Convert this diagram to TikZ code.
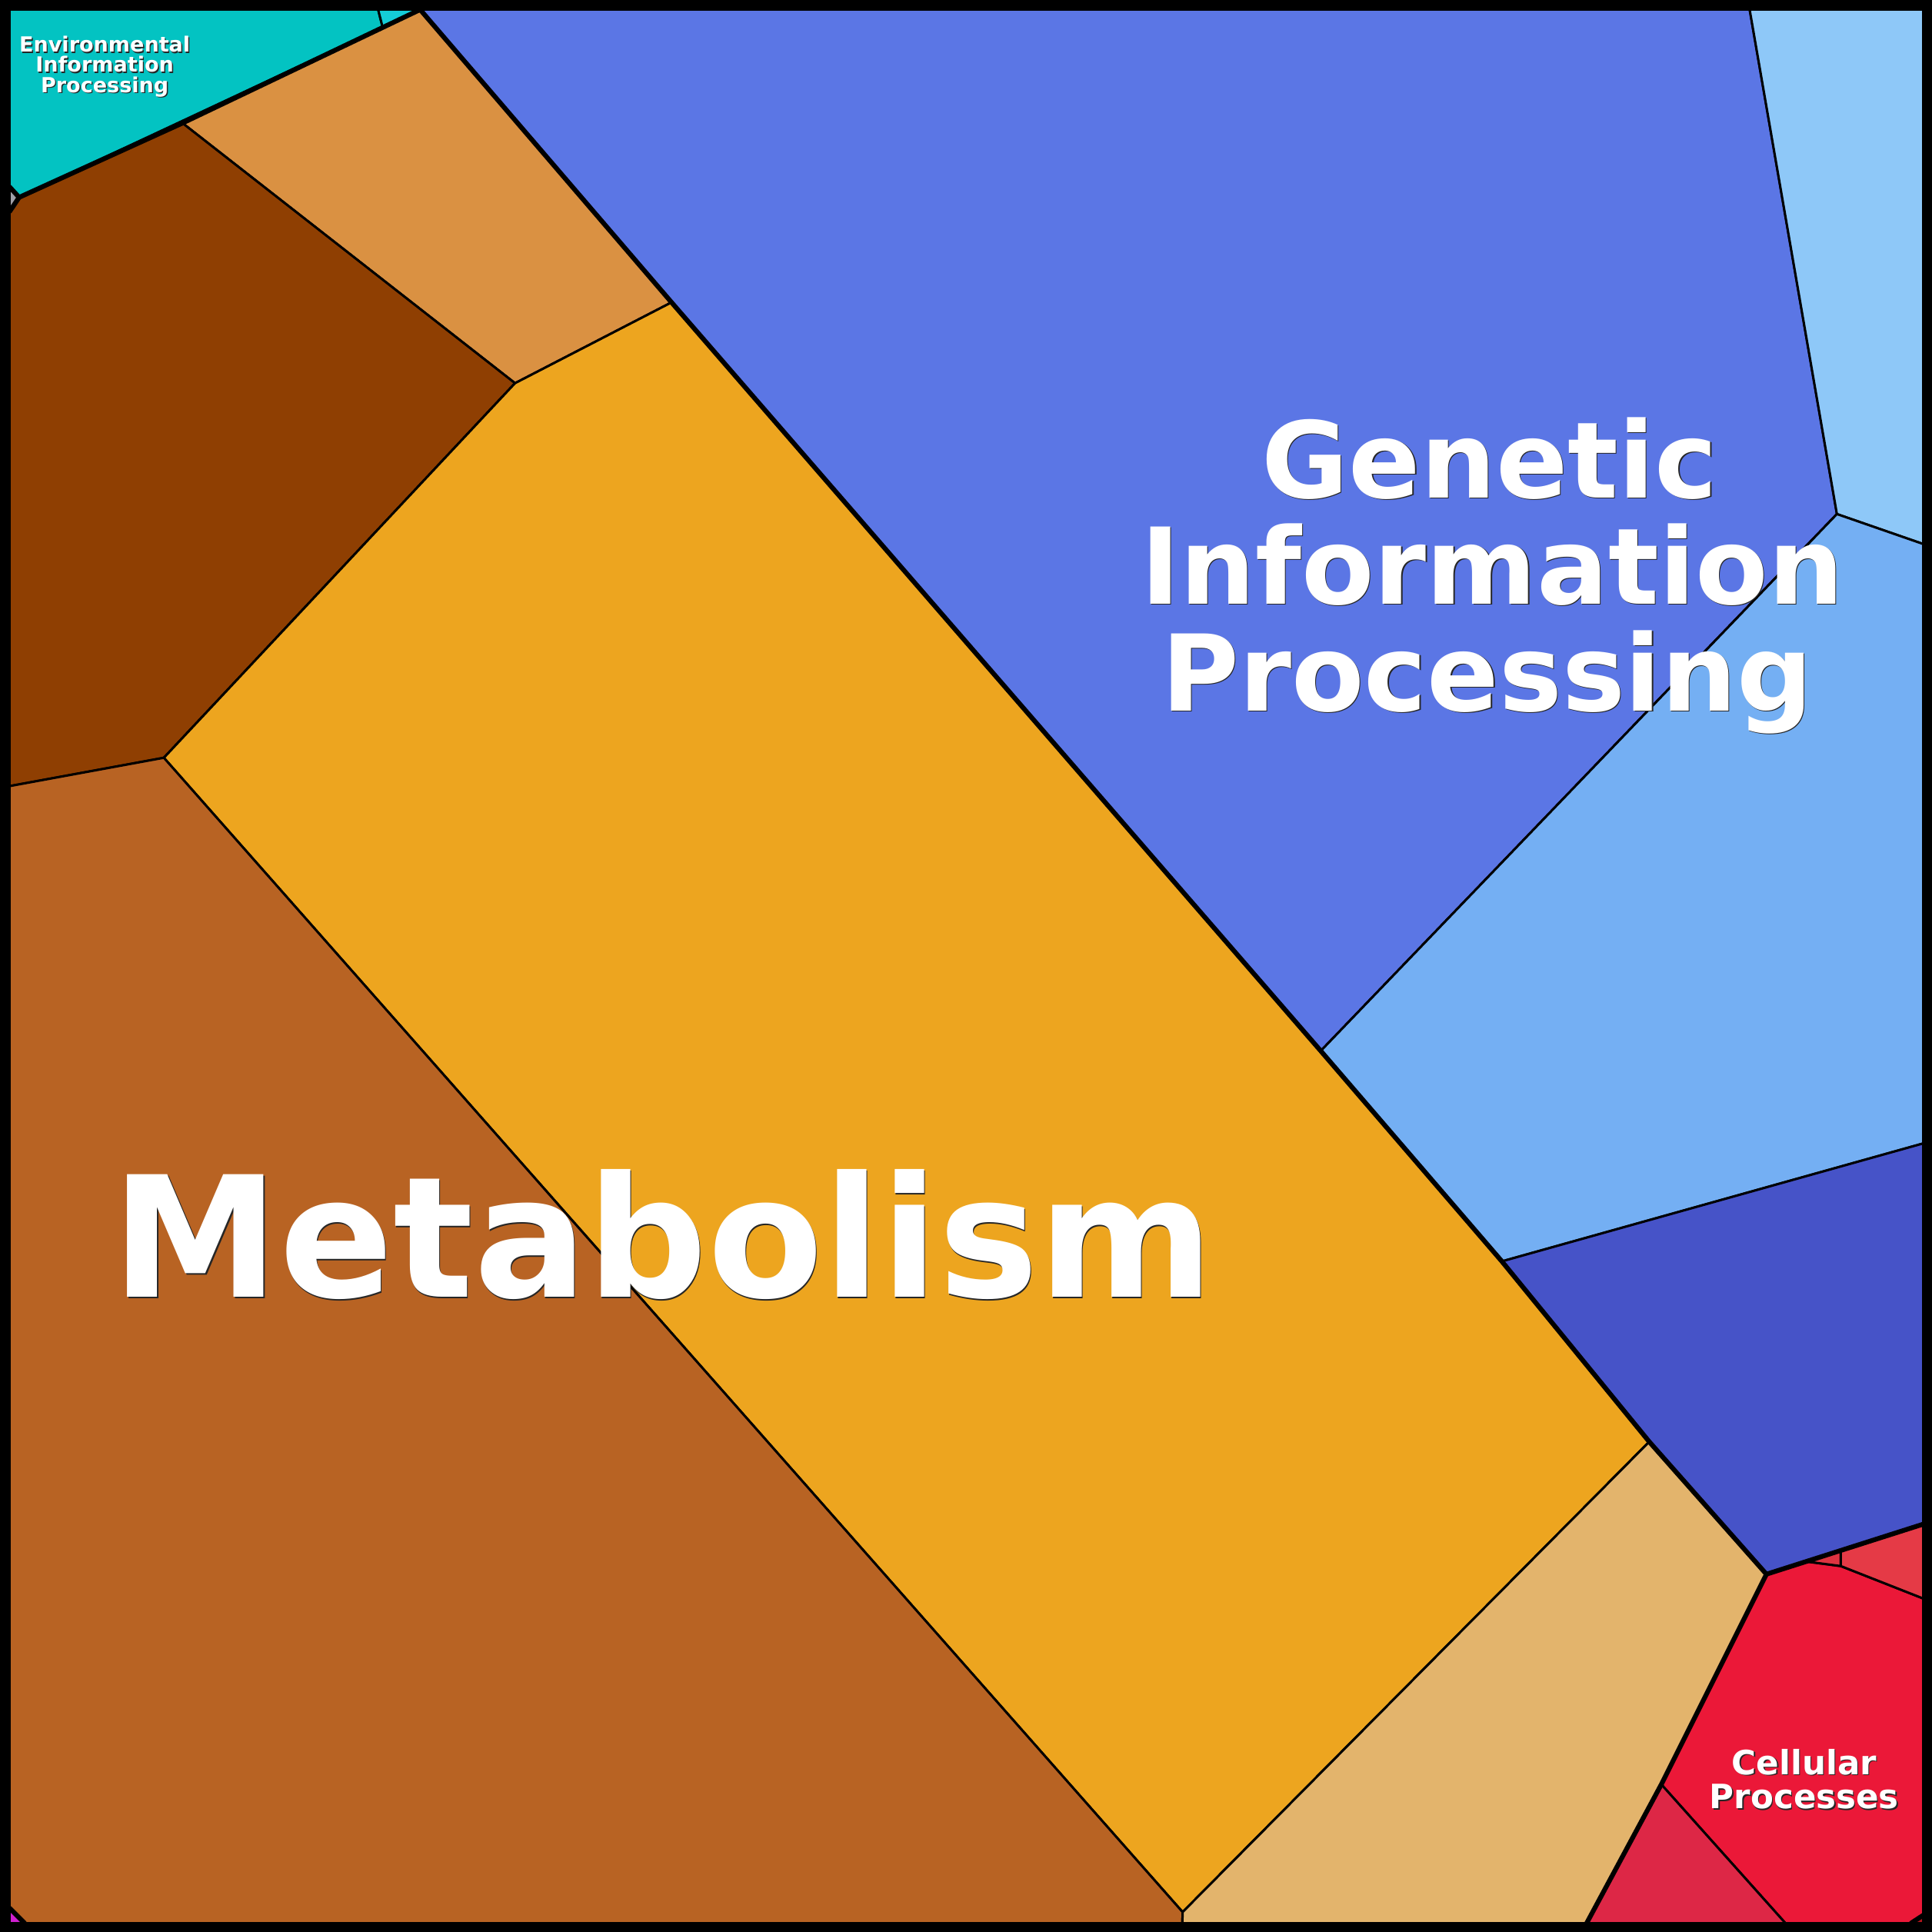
\documentclass[tikz,border=0pt]{standalone}
\usepackage{fontspec}
\setmainfont{DejaVu Sans}
\definecolor{cTeal}{HTML}{03C3C2}
\definecolor{cTealL}{HTML}{14CCD8}
\definecolor{cOrL}{HTML}{DA9142}
\definecolor{cBrD}{HTML}{8F3F02}
\definecolor{cGold}{HTML}{EDA51F}
\definecolor{cBrO}{HTML}{B86323}
\definecolor{cTan}{HTML}{E3B46C}
\definecolor{cBlue}{HTML}{5B76E5}
\definecolor{cBlueL}{HTML}{8EC8F8}
\definecolor{cBlueM}{HTML}{74AFF3}
\definecolor{cBlueD}{HTML}{4653C8}
\definecolor{cRed}{HTML}{EB1838}
\definecolor{cCrim}{HTML}{DD2746}
\definecolor{cRedR}{HTML}{E53A46}
\definecolor{cRedS}{HTML}{DE3340}
\definecolor{cRedD}{HTML}{B3151B}
\definecolor{cMag}{HTML}{D020D0}
\definecolor{cGray}{HTML}{A0A0A8}
\tikzset{
  cell/.style={draw=black, line width=0.85pt, line join=round},
  grp/.style={draw=black, line width=1.75pt, line join=round, line cap=round},
  lab/.style={text=white, inner sep=0pt, anchor=base},
  shd/.style={text=black!85, inner sep=0pt, anchor=base, xshift=0.4pt, yshift=-0.4pt},
  fbig/.style={font={\fontsize{39.2}{39.2}\selectfont\bfseries}},
  fmet/.style={font={\fontsize{62.2}{62.2}\selectfont\bfseries}},
  fcel/.style={font={\fontsize{12.4}{12.4}\selectfont\bfseries}},
  fenv/.style={font={\fontsize{7.7}{7.7}\selectfont\bfseries}},
}
\begin{document}
\begin{tikzpicture}[x=0.0160204cm,y=-0.0160204cm]
\useasboundingbox (0,0) rectangle (1568,1568);
\fill[black] (0,0) rectangle (1568,1568);
% Environmental
\filldraw[cell, fill=cTeal] (7.8,7.8) -- (306.9,7.8) -- (310.5,22) -- (15.5,160.2) -- (7.8,151.7) -- cycle;
\filldraw[cell, fill=cTealL] (306.9,7.8) -- (341,7.8) -- (310.5,22) -- cycle;
% small gray cell
\filldraw[cell, fill=cGray] (7.8,151.7) -- (15.5,160.2) -- (7.8,171.7) -- cycle;
% Metabolism
\filldraw[cell, fill=cOrL] (341,7.8) -- (545,245.4) -- (418,311) -- (148.1,99.9) -- cycle;
\filldraw[cell, fill=cBrD] (148.1,99.9) -- (418,311) -- (133,615) -- (7.8,638) -- (7.8,171.7) -- (15.5,160.2) -- cycle;
\filldraw[cell, fill=cGold] (545,245.4) -- (1071.9,852.9) -- (1218.9,1023.7) -- (1338.5,1170.1) -- (959.8,1551.8) -- (133,615) -- (418,311) -- cycle;
\filldraw[cell, fill=cBrO] (133,615) -- (959.8,1551.8) -- (959.6,1560.8) -- (20,1560.8) -- (7.8,1548.6) -- (7.8,638) -- cycle;
\filldraw[cell, fill=cTan] (1338.5,1170.1) -- (1433.6,1277.6) -- (1348.3,1448.2) -- (1287.7,1560.8) -- (959.6,1560.8) -- (959.8,1551.8) -- cycle;
% magenta corner cell
\filldraw[cell, fill=cMag] (7.8,1548.6) -- (20,1560.8) -- (7.8,1560.8) -- cycle;
% Genetic
\filldraw[cell, fill=cBlue] (341,7.8) -- (1420,7.8) -- (1490.8,417.2) -- (1071.9,852.9) -- (545,245.4) -- cycle;
\filldraw[cell, fill=cBlueL] (1420,7.8) -- (1560.8,7.8) -- (1560.8,441.5) -- (1490.8,417.2) -- cycle;
\filldraw[cell, fill=cBlueM] (1490.8,417.2) -- (1560.8,441.5) -- (1560.8,928) -- (1218.9,1023.7) -- (1071.9,852.9) -- cycle;
\filldraw[cell, fill=cBlueD] (1218.9,1023.7) -- (1560.8,928) -- (1560.8,1237) -- (1433.6,1277.6) -- (1338.5,1170.1) -- cycle;
% Cellular
\filldraw[cell, fill=cRed] (1433.6,1277.6) -- (1465.8,1267.3) -- (1494,1271) -- (1560.8,1297.3) -- (1560.8,1554.4) -- (1551,1560.8) -- (1449,1560.8) -- (1348.3,1448.2) -- cycle;
\filldraw[cell, fill=cRedS] (1465.8,1267.3) -- (1494,1258.3) -- (1494,1271) -- cycle;
\filldraw[cell, fill=cRedR] (1494,1258.3) -- (1560.8,1237) -- (1560.8,1297.3) -- (1494,1271) -- cycle;
\filldraw[cell, fill=cCrim] (1348.3,1448.2) -- (1449,1560.8) -- (1287.7,1560.8) -- cycle;
\filldraw[cell, fill=cRedD] (1551,1560.8) -- (1560.8,1554.4) -- (1560.8,1560.8) -- cycle;
% group borders
\draw[grp] (341,7.8) -- (148.1,99.9) -- (15.5,160.2);
\draw[grp] (7.8,151.7) -- (15.5,160.2) -- (7.8,171.7);
\draw[grp] (341,7.8) -- (545,245.4) -- (1071.9,852.9) -- (1218.9,1023.7) -- (1338.5,1170.1) -- (1433.6,1277.6) -- (1560.8,1237);
\draw[grp] (1433.6,1277.6) -- (1348.3,1448.2) -- (1287.7,1560.8);
\draw[grp] (7.8,1548.6) -- (20,1560.8);
\draw[grp] (1551,1560.8) -- (1560.8,1554.4);
% labels
\node[shd,fenv] (es1) at (85,42.2) {Environmental};
\node[lab,fenv] (e1) at (85,42.2) {Environmental};
\node[shd,fenv] (es2) at (85,58.6) {Information};
\node[lab,fenv] (e2) at (85,58.6) {Information};
\node[shd,fenv] (es3) at (85,75) {Processing};
\node[lab,fenv] (e3) at (85,75) {Processing};
\node[shd,fbig] (gs1) at (1209,404) {Genetic};
\node[lab,fbig] (g1) at (1209,404) {Genetic};
\node[shd,fbig] (gs2) at (1211,490) {Information};
\node[lab,fbig] (g2) at (1211,490) {Information};
\node[shd,fbig] (gs3) at (1207,577) {Processing};
\node[lab,fbig] (g3) at (1207,577) {Processing};
\node[shd,fmet] (ms) at (538,1053) {Metabolism};
\node[lab,fmet] (m) at (538,1053) {Metabolism};
\node[shd,fcel] (cs1) at (1464.3,1440.2) {Cellular};
\node[lab,fcel] (c1) at (1464.3,1440.2) {Cellular};
\node[shd,fcel] (cs2) at (1464.3,1468) {Processes};
\node[lab,fcel] (c2) at (1464.3,1468) {Processes};
\end{tikzpicture}
\end{document}
